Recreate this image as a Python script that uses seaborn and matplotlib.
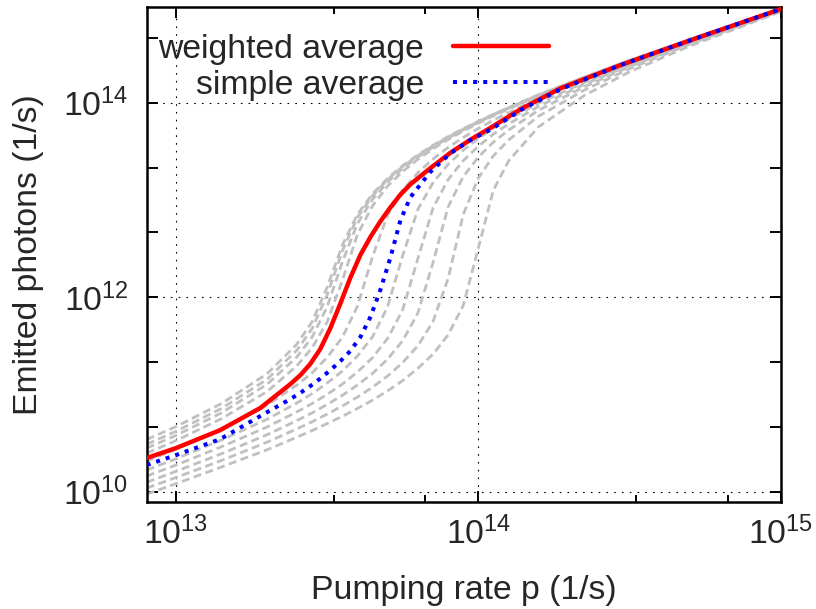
import matplotlib
matplotlib.use("Agg")
import matplotlib.pyplot as plt
import seaborn as sns
import pandas as pd
from matplotlib.ticker import FixedLocator, FuncFormatter, NullFormatter
import math

# ---------------- data ----------------
pump_grid = [8.0e12, 1.0e13, 1.41e13, 2.0e13, 2.51e13, 2.82e13, 3.16e13, 3.55e13,
             3.98e13, 4.47e13, 5.01e13, 5.62e13, 6.31e13, 7.08e13, 7.94e13, 8.91e13,
             1.0e14, 1.12e14, 1.26e14, 1.58e14, 2.24e14, 3.16e14, 5.01e14, 1.0e15]

gray_1 = [3.44e10, 4.67e10, 8.03e10, 1.63e11, 3.29e11, 5.61e11, 1.26e12, 3.45e12,
          7.12e12, 1.16e13, 1.67e13, 2.26e13, 2.91e13, 3.65e13, 4.48e13, 5.41e13,
          6.45e13, 7.62e13, 8.93e13, 1.21e14, 1.83e14, 2.72e14, 4.50e14, 9.28e14]
gray_2 = [3.08e10, 4.18e10, 7.15e10, 1.43e11, 2.85e11, 4.77e11, 1.05e12, 3.01e12,
          6.63e12, 1.11e13, 1.62e13, 2.21e13, 2.86e13, 3.60e13, 4.43e13, 5.36e13,
          6.40e13, 7.57e13, 8.88e13, 1.20e14, 1.83e14, 2.72e14, 4.49e14, 9.28e14]
gray_3 = [2.81e10, 3.79e10, 6.44e10, 1.27e11, 2.43e11, 3.90e11, 7.94e11, 2.31e12,
          5.72e12, 1.02e13, 1.53e13, 2.11e13, 2.77e13, 3.50e13, 4.33e13, 5.26e13,
          6.30e13, 7.47e13, 8.79e13, 1.19e14, 1.82e14, 2.71e14, 4.48e14, 9.27e14]
gray_4 = [2.49e10, 3.35e10, 5.61e10, 1.07e11, 1.97e11, 3.02e11, 5.55e11, 1.49e12,
          4.41e12, 8.75e12, 1.39e13, 1.97e13, 2.62e13, 3.36e13, 4.19e13, 5.12e13,
          6.16e13, 7.33e13, 8.64e13, 1.18e14, 1.81e14, 2.69e14, 4.47e14, 9.26e14]
gray_5 = [2.07e10, 2.74e10, 4.41e10, 7.76e10, 1.25e11, 1.67e11, 2.40e11, 3.87e11,
          8.07e11, 2.63e12, 6.99e12, 1.26e13, 1.91e13, 2.64e13, 3.47e13, 4.40e13,
          5.44e13, 6.61e13, 7.93e13, 1.11e14, 1.73e14, 2.62e14, 4.40e14, 9.18e14]
gray_6 = [1.67e10, 2.18e10, 3.39e10, 5.56e10, 8.17e10, 1.02e11, 1.31e11, 1.74e11,
          2.48e11, 3.94e11, 8.00e11, 2.69e12, 8.04e12, 1.51e13, 2.33e13, 3.25e13,
          4.29e13, 5.46e13, 6.78e13, 9.90e13, 1.62e14, 2.50e14, 4.28e14, 9.07e14]
gray_7 = [1.45e10, 1.88e10, 2.89e10, 4.63e10, 6.62e10, 8.08e10, 1.00e11, 1.28e11,
          1.70e11, 2.40e11, 3.77e11, 7.44e11, 2.51e12, 8.30e12, 1.62e13, 2.54e13,
          3.58e13, 4.75e13, 6.06e13, 9.19e13, 1.55e14, 2.43e14, 4.21e14, 9.00e14]
gray_8 = [1.25e10, 1.62e10, 2.45e10, 3.85e10, 5.39e10, 6.47e10, 7.89e10, 9.80e10,
          1.25e11, 1.65e11, 2.31e11, 3.58e11, 6.89e11, 2.28e12, 8.51e12, 1.74e13,
          2.77e13, 3.93e13, 5.25e13, 8.37e13, 1.46e14, 2.35e14, 4.13e14, 8.92e14]
gray_9 = [1.09e10, 1.40e10, 2.09e10, 3.23e10, 4.43e10, 5.24e10, 6.28e10, 7.62e10,
          9.40e10, 1.19e11, 1.55e11, 2.13e11, 3.18e11, 5.64e11, 1.56e12, 7.12e12,
          1.69e13, 2.84e13, 4.15e13, 7.27e13, 1.35e14, 2.24e14, 4.02e14, 8.80e14]
gray_10 = [9.43e9, 1.21e10, 1.79e10, 2.70e10, 3.64e10, 4.26e10, 5.02e10, 5.97e10,
           7.18e10, 8.76e10, 1.09e11, 1.39e11, 1.86e11, 2.60e11, 4.10e11, 8.25e11,
           3.23e12, 1.26e13, 2.54e13, 5.65e13, 1.19e14, 2.08e14, 3.85e14, 8.64e14]

pump_avg = [8.0e12, 1.0e13, 1.40e13, 1.90e13, 2.39e13, 2.58e13, 2.78e13, 3.00e13,
            3.24e13, 3.50e13, 3.77e13, 4.07e13, 4.40e13, 4.74e13, 5.12e13, 5.52e13,
            5.96e13, 6.94e13, 8.08e13, 9.41e13, 1.10e14, 1.38e14, 1.87e14, 2.95e14,
            5.43e14, 1.0e15]
weighted_average = [2.22e10, 2.81e10, 4.30e10, 7.26e10, 1.28e11, 1.585e11, 2.06e11, 2.93e11,
                    4.82e11, 8.70e11, 1.58e12, 2.72e12, 4.19e12, 6.03e12, 8.41e12, 1.135e13,
                    1.45e13, 2.13e13, 3.06e13, 4.17e13, 5.56e13, 8.61e13, 1.41e14, 2.44e14,
                    4.78e14, 9.19e14]
simple_average = [1.88e10, 2.38e10, 3.47e10, 6.00e10, 8.98e10, 1.04e11, 1.22e11, 1.46e11,
                  1.78e11, 2.21e11, 2.80e11, 3.89e11, 6.32e11, 1.19e12, 2.57e12, 6.18e12,
                  1.07e13, 1.95e13, 3.02e13, 4.13e13, 5.32e13, 8.41e13, 1.38e14, 2.44e14,
                  4.78e14, 9.19e14]

legend_labels = ["weighted average", "simple average"]
x_major = [1e13, 1e14, 1e15]
x_minor = [3.33e13, 6.67e13, 3.33e14, 6.67e14]
y_major = [1e10, 1e12, 1e14]
y_minor = [4.64e10, 2.15e11, 4.64e12, 2.15e13, 4.64e14]
x_label = "Pumping rate p (1/s)"
y_label = "Emitted photons (1/s)"

# ---------------- style ----------------
sns.set_style("ticks")
plt.rcParams["font.family"] = ["Liberation Sans", "DejaVu Sans"]
plt.rcParams["mathtext.fontset"] = "custom"
plt.rcParams["mathtext.rm"] = "Liberation Sans"
plt.rcParams["mathtext.it"] = "Liberation Sans:italic"
FS = 24.3

fig = plt.figure(figsize=(8.16, 6.09), dpi=100)
ax = fig.add_axes([0.1797, 0.1762, 0.7773, 0.8123])

gray_list = [gray_1, gray_2, gray_3, gray_4, gray_5, gray_6, gray_7, gray_8, gray_9, gray_10]
rows = []
for i, g in enumerate(gray_list):
    for p, v in zip(pump_grid, g):
        rows.append({"curve": i, "pump": p, "photons": v})
gray_df = pd.DataFrame(rows)

sns.lineplot(data=gray_df, x="pump", y="photons", units="curve", estimator=None,
             color="#c0c0c0", lw=2.0, linestyle=(0, (2.9, 1.6)), legend=False,
             ax=ax, zorder=2)

avg_df = pd.DataFrame({"pump": pump_avg, "weighted": weighted_average,
                       "simple": simple_average})
sns.lineplot(data=avg_df, x="pump", y="weighted", color="#ff0000", lw=3.2,
             label=legend_labels[0], ax=ax, zorder=3)
sns.lineplot(data=avg_df, x="pump", y="simple", color="#0000ff", lw=2.9,
             linestyle=(0, (1.0, 1.5)), label=legend_labels[1], ax=ax, zorder=4)
for ln in ax.get_lines()[-1:]:
    ln.set_dash_capstyle("butt")

ax.set_xscale("log")
ax.set_yscale("log")
ax.set_xlim(8.0e12, 1.0e15)
ax.set_ylim(7.9e9, 9.65e14)

fmt = FuncFormatter(lambda v, pos: r"$\mathdefault{10^{%d}}$" % round(math.log10(v)))
ax.xaxis.set_major_locator(FixedLocator(x_major))
ax.xaxis.set_minor_locator(FixedLocator(x_minor))
ax.yaxis.set_major_locator(FixedLocator(y_major))
ax.yaxis.set_minor_locator(FixedLocator(y_minor))
ax.xaxis.set_major_formatter(fmt)
ax.yaxis.set_major_formatter(fmt)
ax.xaxis.set_minor_formatter(NullFormatter())
ax.yaxis.set_minor_formatter(NullFormatter())

ax.grid(True, which="major", color="black", lw=0.8, linestyle=(0, (1.5, 5.5)))
ax.set_axisbelow(True)

for s in ax.spines.values():
    s.set_linewidth(1.8)
    s.set_color("black")
    s.set_visible(True)

ax.tick_params(which="both", direction="in", top=True, right=True, width=1.4,
               color="black")
ax.tick_params(which="major", length=8, labelsize=FS)
ax.tick_params(axis="x", which="major", pad=11)
ax.tick_params(axis="y", which="major", pad=13)
ax.tick_params(axis="x", which="minor", length=5)
ax.tick_params(axis="y", which="minor", length=8)

ax.set_xlabel(x_label, fontsize=FS)
ax.set_ylabel(y_label, fontsize=FS)
ax.xaxis.set_label_coords(0.5, -0.148)
ax.yaxis.set_label_coords(-0.162, 0.5)

handles, labels = ax.get_legend_handles_labels()
leg = ax.legend(handles, labels, loc="upper right", bbox_to_anchor=(0.634, 0.946),
                frameon=False, markerfirst=False, fontsize=FS, borderaxespad=0,
                borderpad=0, handlelength=2.85, handletextpad=0.85, labelspacing=0.15)
for col in leg._legend_handle_box.get_children():
    col.align = "right"

fig.savefig("out.png", dpi=100)
